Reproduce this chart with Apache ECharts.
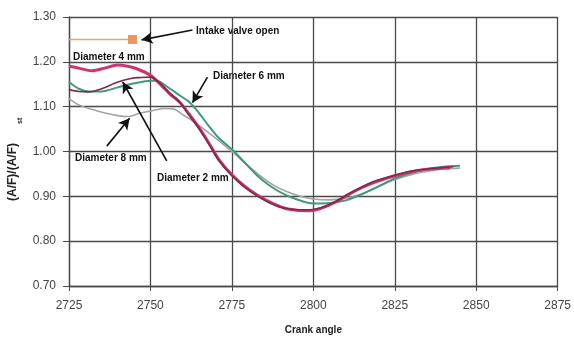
<!DOCTYPE html>
<html><head><meta charset="utf-8">
<script src="https://cdn.jsdelivr.net/npm/echarts@6/dist/echarts.min.js"></script>
<style>html,body{margin:0;padding:0;background:#fff}#c{width:574px;height:340px}</style>
</head><body><div id="c"></div>
<script>
const xTicks = [2725, 2750, 2775, 2800, 2825, 2850, 2875];
const yTicks = [0.70, 0.80, 0.90, 1.00, 1.10, 1.20, 1.30];

const dia4 = [[2725,1.190],[2728,1.186],[2732,1.180],[2736,1.186],[2740,1.193],[2743,1.190],[2746,1.184],[2750,1.170],[2753,1.150],[2756,1.128],[2759,1.110],[2762,1.082],[2765,1.052],[2768,1.018],[2771,0.982],[2775,0.948],[2779,0.922],[2783,0.902],[2787,0.886],[2791,0.874],[2795,0.869],[2799,0.868],[2803,0.875],[2807,0.888],[2811,0.905],[2815,0.920],[2819,0.932],[2825,0.946],[2830,0.955],[2836,0.961],[2842,0.964]];
const dia2 = [[2725,1.138],[2728,1.134],[2731,1.133],[2735,1.140],[2740,1.155],[2744,1.163],[2747,1.165],[2750,1.166],[2753,1.152],[2756,1.130],[2759,1.110],[2762,1.080],[2765,1.050],[2768,1.016],[2771,0.980],[2775,0.946],[2779,0.920],[2783,0.900],[2787,0.884],[2791,0.874],[2795,0.870],[2799,0.870],[2803,0.876],[2807,0.889],[2811,0.906],[2815,0.921],[2819,0.934],[2825,0.947],[2830,0.956],[2836,0.962],[2843,0.966]];
const dia6 = [[2725,1.155],[2728,1.140],[2731,1.134],[2735,1.134],[2740,1.143],[2745,1.152],[2750,1.158],[2752,1.158],[2755,1.145],[2759,1.125],[2762,1.110],[2765,1.085],[2768,1.056],[2771,1.030],[2775,1.005],[2779,0.975],[2783,0.945],[2787,0.922],[2791,0.905],[2795,0.893],[2800,0.884],[2805,0.885],[2810,0.891],[2815,0.905],[2820,0.922],[2825,0.940],[2830,0.952],[2835,0.961],[2840,0.966],[2845,0.968]];
const dia8 = [[2725,1.118],[2728,1.104],[2732,1.094],[2736,1.086],[2740,1.080],[2743,1.078],[2747,1.086],[2750,1.090],[2754,1.096],[2757,1.095],[2760,1.082],[2763,1.068],[2766,1.052],[2770,1.030],[2775,1.000],[2780,0.968],[2784,0.944],[2788,0.924],[2792,0.910],[2796,0.900],[2800,0.894],[2805,0.892],[2810,0.896],[2815,0.906],[2820,0.922],[2825,0.937],[2830,0.948],[2835,0.956],[2840,0.961],[2845,0.963]];
const valveLine = [[2723,1.25],[2744.5,1.25]];

const arrows = [
  [[2762.9,1.271],[2747.3,1.249]],
  [[2767.5,1.166],[2762.9,1.109]],
  [[2736.6,1.012],[2743.6,1.074]],
  [[2755.0,0.979],[2741.5,1.155]]
];
const labels = [
  {text:'Intake valve open', x:196, y:31},
  {text:'Diameter 4 mm', x:73, y:57},
  {text:'Diameter 6 mm', x:213, y:76},
  {text:'Diameter 8 mm', x:75, y:158},
  {text:'Diameter 2 mm', x:157, y:178}
];

const chart = echarts.init(document.getElementById('c'));
const lblFont = 'bold 10px "Liberation Sans Narrow", "Liberation Sans", Arial, sans-serif';
chart.setOption({
  animation:false,
  grid:{left:69, right:15, top:17, bottom:50},
  xAxis:{type:'value', min:xTicks[0], max:xTicks[xTicks.length-1], interval:25,
    axisLine:{lineStyle:{color:'#4a4a4a',width:1.3}},
    axisTick:{show:true,length:5,lineStyle:{color:'#4a4a4a'}},
    axisLabel:{color:'#444',fontSize:12,fontFamily:'Liberation Sans, Arial',margin:14,formatter:v=>String(v)},
    splitLine:{show:true,lineStyle:{color:'#4a4a4a',width:1.3}},
    name:'Crank angle', nameLocation:'middle', nameGap:39,
    nameTextStyle:{color:'#222',fontSize:10,fontWeight:'bold',fontFamily:'"Liberation Sans Narrow", "Liberation Sans", Arial'}
  },
  yAxis:{type:'value', min:yTicks[0], max:yTicks[yTicks.length-1], interval:0.1,
    axisLine:{show:true,lineStyle:{color:'#4a4a4a',width:1.3}},
    axisTick:{show:true,length:6,lineStyle:{color:'#4a4a4a'}},
    axisLabel:{color:'#444',fontSize:12,fontFamily:'Liberation Sans, Arial',margin:13,formatter:v=>v.toFixed(2)},
    splitLine:{show:true,lineStyle:{color:'#4a4a4a',width:1.3}}
  },
  graphic:[
    {type:'text', x:7, y:201, rotation:Math.PI/2, style:{text:'(A/F)/(A/F)', font:'bold 12px "Liberation Sans", Arial, sans-serif', fill:'#222'}},
    {type:'text', x:17, y:124, rotation:Math.PI/2, style:{text:'st', font:'bold 7px "Liberation Sans", Arial', fill:'#222'}}
  ].concat(labels.map(l=>({type:'text', x:l.x, y:l.y, style:{text:l.text, font:lblFont, fill:'#111', textVerticalAlign:'middle'}}))),
  series:[
    {type:'line', name:'Diameter 8 mm', data:dia8, showSymbol:false, smooth:0.3, lineStyle:{color:'#a3a3a3',width:1.6}},
    {type:'line', name:'Diameter 6 mm', data:dia6, showSymbol:false, smooth:0.3, lineStyle:{color:'#3e9a7a',width:2}},
    {type:'line', name:'Diameter 4 mm', data:dia4, showSymbol:false, smooth:0.3, lineStyle:{color:'#cc3570',width:3}},
    {type:'line', name:'Diameter 2 mm', data:dia2, showSymbol:false, smooth:0.3, lineStyle:{color:'#7e2a4c',width:1.6}},
    {type:'line', name:'Intake valve open', clip:false,
      data:[{value:valveLine[0],symbol:'none'},{value:valveLine[1],symbol:'rect',symbolSize:9}],
      lineStyle:{color:'#e8a07a',width:1.5}, itemStyle:{color:'#ec9660'}},
    {type:'line', data:[], markLine:{silent:true, symbol:['none','arrow'], symbolSize:[9,11],
      lineStyle:{color:'#111',width:1.6,type:'solid'}, label:{show:false},
      data:arrows.map(a=>[{coord:a[0]},{coord:a[1]}])}}
  ]
});
</script></body></html>
